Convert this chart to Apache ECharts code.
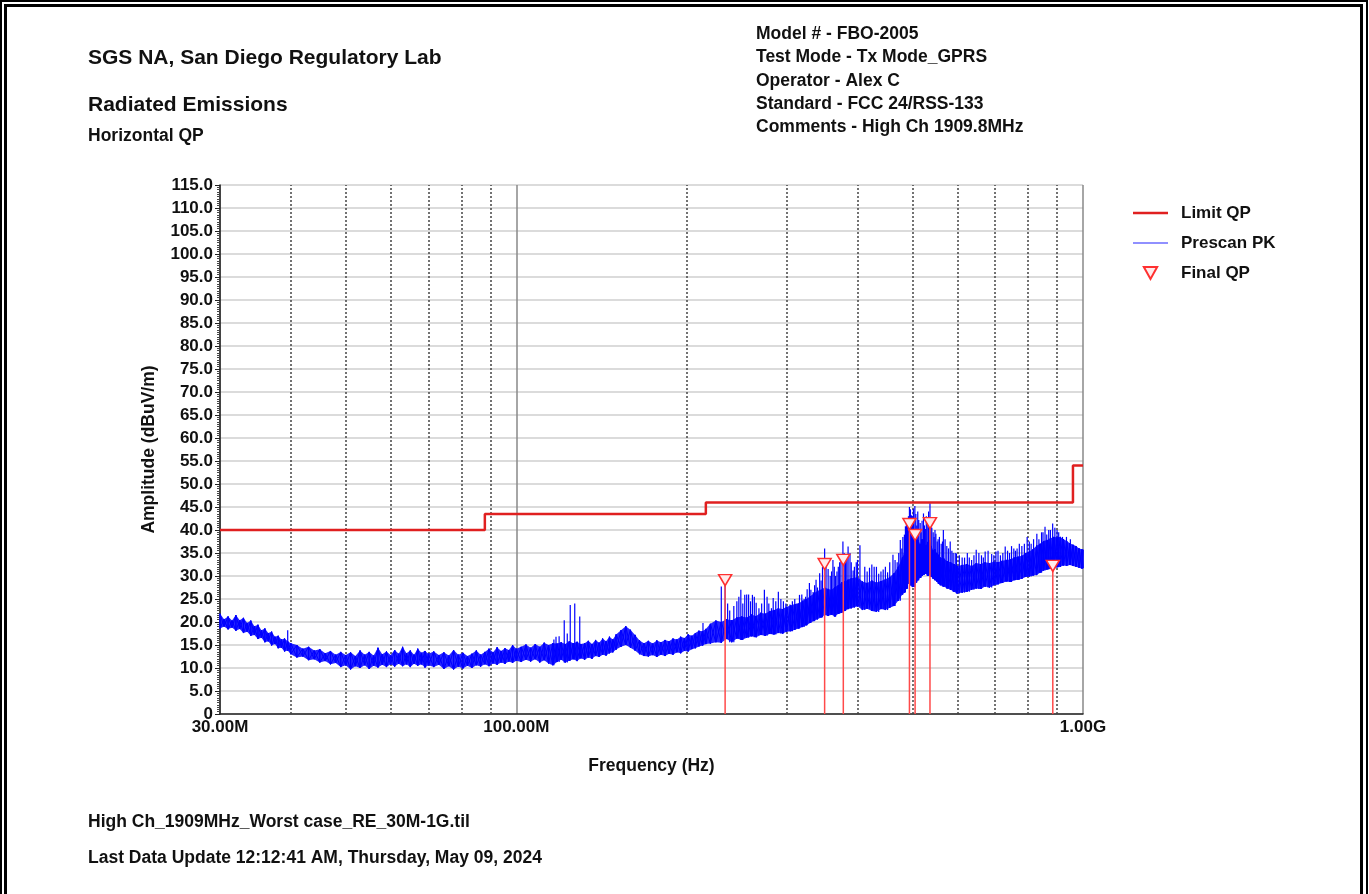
<!DOCTYPE html>
<html>
<head>
<meta charset="utf-8">
<title>Radiated Emissions - Horizontal QP</title>
<script src="https://cdn.jsdelivr.net/npm/echarts@6/dist/echarts.min.js"></script>
<style>
  html, body { margin: 0; padding: 0; background: #fff; }
  #chart { width: 1369px; height: 894px; }
</style>
</head>
<body>
<div id="chart"></div>
<script>
// frequencies in MHz, levels in dBuV/m
// broadband noise floor of the peak prescan: top and bottom of the band
const prescanFreq = [
  30, 30.5, 31, 31.5, 32, 32.5, 33, 33.5, 34, 34.5, 35, 35.5, 36, 36.5, 37, 37.5, 38, 38.5, 39, 39.5, 40,
  41, 42, 43, 44, 45, 46, 47, 48, 49, 50, 51, 52, 53, 54, 55, 56, 57, 58, 59, 60, 61, 62, 63, 64, 65, 66, 67, 68, 69, 70,
  71.5, 73, 74.5, 76, 77.5, 79, 80.5, 82, 83.5, 85, 86.5, 88, 89.5, 91, 92.5, 94, 95.5, 97, 98.5, 100,
  102, 104, 106, 108, 110, 112, 114, 116, 118, 120, 122, 124, 126, 128, 130, 132, 134, 136, 138, 140, 142, 144, 146, 148, 150,
  153, 156, 159, 162, 165, 168, 171, 174, 177, 180, 183, 186, 189, 192, 195, 198, 201, 204, 207, 210, 213, 216,
  220, 225, 230, 235, 240, 245, 250, 255, 260, 265, 270, 275, 280, 285, 290, 295, 300, 305, 310, 315,
  320, 325, 330, 335, 340, 345, 350, 355, 360, 365, 370, 375, 380, 385, 390, 395, 400,
  408, 416, 424, 432, 440, 448, 456, 464, 472, 480, 484, 488, 492, 496, 500, 504, 508, 512, 516, 520,
  524, 528, 532, 536, 540, 544, 548, 552, 556, 560, 568, 576, 584, 592, 600,
  612, 624, 636, 648, 660, 672, 684, 696, 708, 720, 732, 744, 756, 768, 780, 792, 804, 816, 828, 840,
  852, 864, 876, 888, 900, 912, 924, 936, 948, 960, 972, 984, 996, 1000
];
const prescanHi = [
  21.8, 20.6, 21.2, 20.3, 21.5, 20.4, 20.9, 19.8, 20.3, 19.1, 19.4, 18.2, 18.6, 17.6, 17.9, 16.8, 17.0, 16.2, 16.4, 15.8, 15.4,
  15.0, 14.2, 14.6, 13.8, 14.1, 13.2, 13.7, 12.9, 13.5, 12.8, 13.4, 12.6, 13.8, 12.9, 13.5, 12.7, 14.4, 13.0, 13.6, 12.8, 13.9, 13.1, 14.6, 13.2, 13.8, 12.9, 14.2, 13.3, 13.7, 13.1,
  13.6, 12.8, 13.4, 12.7, 13.9, 12.9, 13.3, 12.6, 13.1, 13.8, 12.9, 13.5, 14.2, 13.4, 14.5, 13.7, 14.3, 13.9, 15.0, 14.2,
  14.6, 15.1, 14.4, 15.2, 14.6, 15.5, 15.0, 15.4, 15.3, 15.6, 15.2, 15.8, 15.4, 15.7, 15.2, 15.4, 15.9, 15.2, 16.1, 15.5, 16.4, 15.8, 16.8, 16.2, 17.3,
  18.2, 19.1, 18.3, 17.2, 16.0, 15.4, 15.9, 15.3, 16.0, 15.6, 16.1, 15.8, 16.4, 16.2, 16.8, 16.5, 17.3, 17.0, 17.6, 18.1, 18.0, 18.5,
  19.6, 20.3, 20.0, 20.6, 20.4, 21.0, 21.2, 21.0, 21.6, 21.3, 22.0, 21.8, 22.4, 22.6, 23.0, 22.8, 23.3, 23.6, 23.9, 24.0,
  24.6, 25.0, 25.6, 26.2, 26.8, 27.0, 27.5, 27.2, 27.0, 27.6, 28.0, 28.6, 28.8, 29.2, 29.5, 29.6, 29.8,
  28.8, 28.5, 29.0, 28.6, 28.9, 29.3, 29.8, 30.6, 32.0, 34.0, 35.0, 36.2, 37.5, 37.0, 38.0, 37.6, 38.2, 37.8, 36.9, 38.0,
  37.2, 36.6, 37.4, 37.8, 36.5, 35.6, 35.8, 35.0, 34.6, 34.0, 33.8, 33.2, 33.0, 32.6, 32.2,
  32.4, 32.6, 32.2, 32.8, 32.6, 33.0, 32.8, 33.1, 33.0, 33.3, 33.5, 33.6, 34.0, 34.2, 34.4, 35.0, 35.3, 35.8, 36.6, 37.0,
  37.6, 37.8, 38.2, 38.5, 38.4, 38.5, 38.0, 37.6, 37.1, 36.8, 36.5, 36.0, 35.8, 35.7
];
const prescanLo = [
  18.6, 19.0, 18.4, 18.8, 18.1, 18.5, 17.6, 17.9, 17.0, 17.2, 16.3, 16.6, 15.6, 15.8, 14.9, 15.2, 14.3, 14.4, 13.6, 13.8, 13.0,
  12.3, 12.5, 11.7, 11.9, 11.2, 11.5, 10.8, 11.1, 10.2, 10.6, 9.7, 10.4, 10.0, 10.6, 9.8, 10.5, 10.1, 10.7, 10.2, 10.8, 10.3, 10.9, 10.4, 10.8, 10.2, 10.9, 10.5, 10.8, 10.1, 10.6,
  10.2, 10.7, 9.8, 10.4, 9.7, 10.3, 9.9, 10.5, 10.0, 10.6, 10.3, 10.8, 10.4, 11.0, 10.7, 11.2, 10.9, 11.4, 11.1, 11.6,
  11.3, 11.8, 11.4, 11.9, 11.2, 11.7, 11.0, 10.6, 11.3, 11.8, 11.2, 11.6, 11.9, 11.5, 12.1, 11.8, 12.3, 12.0, 12.6, 12.4, 12.9, 12.7, 13.2, 13.4, 14.0,
  14.6, 15.0, 14.4, 13.8, 13.0, 12.6, 12.5, 12.8, 12.4, 12.9, 12.6, 13.1, 12.9, 13.4, 13.2, 13.7, 13.6, 14.1, 14.3, 14.7, 14.9, 15.2,
  15.3, 15.6, 15.5, 16.3, 15.6, 16.4, 16.1, 16.6, 16.9, 16.7, 17.2, 17.0, 17.4, 17.3, 17.6, 17.5, 17.9, 18.0, 18.3, 18.6,
  18.9, 19.3, 19.8, 20.2, 20.6, 21.0, 21.5, 21.3, 21.6, 21.2, 21.8, 22.0, 22.4, 22.8, 23.0, 23.2, 23.4,
  22.6, 22.9, 22.4, 22.2, 22.8, 22.6, 23.1, 23.5, 24.6, 26.0, 26.4, 27.2, 28.4, 28.0, 27.6, 27.7, 28.6, 29.1, 29.6, 30.0,
  30.3, 30.5, 30.0, 30.2, 29.8, 29.4, 29.1, 28.8, 28.3, 28.0, 27.7, 27.3, 27.0, 26.6, 26.2,
  26.4, 26.6, 27.0, 27.3, 27.2, 27.7, 27.5, 28.0, 28.2, 28.5, 28.8, 28.7, 29.1, 29.2, 29.4, 29.8, 29.9, 30.1, 30.2, 30.7,
  31.2, 31.4, 31.6, 31.7, 31.9, 32.0, 32.3, 32.2, 32.4, 32.2, 32.0, 31.8, 31.6, 31.7
];

// narrowband peaks rising out of the noise floor
const spikeFreq = [
  39.5, 116.5, 117.5, 119, 121.5, 123, 124.5, 126.8, 129.4, 213.5,
  230, 233.6, 236, 245, 249, 253, 257, 261, 265, 268, 274, 279, 284, 290, 296, 304, 310, 316,
  322, 326, 329, 334, 338, 343, 347, 350, 355, 358, 362, 366, 370, 374, 377, 381, 385, 388, 393, 398,
  404, 412, 420, 428, 436, 444, 452, 462, 470, 476, 481, 486, 490, 494, 498, 502, 505, 509, 513,
  518, 523, 527, 531, 537, 541, 546, 550, 555, 562, 567, 575, 583, 590, 598,
  618, 636, 648, 662, 672, 690, 702, 715, 729, 742, 755, 765, 780, 797, 810, 829, 845, 857, 870, 884, 900,
  238, 242, 247, 251, 255, 259, 263, 271, 277, 282, 287, 293, 299, 307, 313, 319, 324, 331, 336, 340,
  345, 352, 360, 364, 368, 372, 379, 383, 390, 395, 400, 416, 424, 432, 440, 448, 456, 466, 473, 479,
  484, 488, 492, 496, 500, 507, 511, 516, 520, 525, 529, 534, 539, 544, 548, 553, 558, 565, 571, 579,
  587, 595, 605, 612, 625, 630, 642, 655, 667, 680, 696, 708, 722, 736, 748, 760, 772, 788, 804, 818,
  836, 850, 863, 876, 892, 906, 920, 935, 950
];
const spikeLevel = [
  18.2, 16.2, 16.8, 16.9, 20.4, 17.5, 23.7, 24.0, 21.2, 19.8,
  27.7, 29.4, 24.0, 24.5, 27.0, 25.9, 26.0, 25.9, 24.2, 23.0, 27.0, 24.0, 25.2, 26.6, 24.5, 23.8, 25.0, 25.9,
  25.0, 27.1, 28.5, 26.5, 29.2, 30.6, 32.0, 36.0, 31.5, 30.0, 33.5, 30.0, 32.0, 34.0, 37.5, 33.6, 36.4, 35.0, 31.2, 33.0,
  36.7, 32.0, 31.8, 32.0, 30.5, 31.4, 30.8, 34.6, 33.0, 37.8, 38.5, 40.8, 42.0, 45.0, 43.2, 44.6, 45.2, 41.0, 42.2,
  39.5, 43.6, 40.2, 42.0, 45.8, 40.5, 38.5, 39.2, 38.0, 37.0, 40.0, 36.5, 37.5, 35.0, 34.9,
  34.0, 33.5, 35.7, 34.5, 35.3, 34.8, 35.3, 34.5, 36.4, 35.0, 36.0, 36.0, 36.5, 38.5, 37.0, 39.2, 39.5, 40.7, 40.0, 41.4, 40.0,
  22.5, 23.5, 25.5, 24.0, 26.0, 24.5, 25.5, 24.0, 25.5, 23.0, 24.5, 25.0, 24.0, 24.5, 24.0, 26.0, 25.5, 27.0, 28.0, 27.5,
  29.0, 33.0, 31.0, 32.0, 31.0, 33.0, 35.0, 34.0, 33.0, 32.0, 33.5, 31.0, 32.5, 32.0, 31.0, 32.0, 33.0, 33.5, 35.0, 36.0,
  39.0, 41.5, 43.0, 44.5, 43.0, 43.5, 44.0, 41.5, 42.0, 41.0, 43.0, 44.0, 42.5, 39.5, 40.0, 37.5, 38.5, 37.5, 38.0, 36.0,
  35.5, 35.0, 34.5, 34.0, 35.0, 34.0, 34.5, 35.0, 34.0, 35.5, 34.5, 35.5, 35.0, 35.5, 36.5, 35.5, 37.0, 37.0, 37.5, 38.0,
  38.0, 39.5, 39.0, 40.0, 40.5, 39.5, 38.5, 38.5, 38.0
];

const limitFreq = [30, 88, 88, 216, 216, 960, 960, 1000];
const limitLevel = [40, 40, 43.5, 43.5, 46, 46, 54, 54];

const finalFreq = [233.6, 350.0, 377.6, 494.0, 505.5, 537.0, 884.5];
const finalLevel = [29.1, 32.6, 33.5, 41.3, 38.9, 41.5, 32.2];

// dotted frequency grid lines
const gridFreqs = [40, 50, 60, 70, 80, 90, 200, 300, 400, 500, 600, 700, 800, 900];

const FONT = '"Liberation Sans", Arial, Helvetica, sans-serif';
const chart = echarts.init(document.getElementById('chart'));

// peak trace drawn as up/down strokes between the high and low readings
const traceUp = [];
const traceDown = [];
prescanFreq.forEach((f, i) => {
  traceUp.push([f, prescanHi[i]], [f, prescanLo[i]]);
  traceDown.push([f, prescanLo[i]], [f, prescanHi[i]]);
});

// base of each spike = bottom of the band at the nearest sample
function nearestIndex(f) {
  let best = 0;
  prescanFreq.forEach((p, i) => {
    if (Math.abs(p - f) < Math.abs(prescanFreq[best] - f)) best = i;
  });
  return best;
}
const spikeData = spikeFreq.map((f, i) => [f, spikeLevel[i], prescanLo[nearestIndex(f)]]);

function headerText(x, y, text, size) {
  return {
    type: 'text', x: x, y: y, silent: true,
    style: { text: text, font: 'bold ' + size + 'px ' + FONT, fill: '#111', align: 'left', verticalAlign: 'middle' }
  };
}

const option = {
  animation: false,
  backgroundColor: '#fff',
  graphic: [
    { type: 'rect', silent: true, shape: { x: 1, y: 1, width: 1366, height: 910 }, style: { fill: 'none', stroke: '#000', lineWidth: 2 } },
    { type: 'rect', silent: true, shape: { x: 5.5, y: 5.5, width: 1356, height: 910 }, style: { fill: 'none', stroke: '#000', lineWidth: 3 } },
    headerText(88, 58, 'SGS NA, San Diego Regulatory Lab', 21),
    headerText(88, 105, 'Radiated Emissions', 21),
    headerText(88, 136, 'Horizontal QP', 17.5),
    headerText(756, 34, 'Model # - FBO-2005', 17.5),
    headerText(756, 57.5, 'Test Mode - Tx Mode_GPRS', 17.5),
    headerText(756, 81, 'Operator - Alex C', 17.5),
    headerText(756, 104, 'Standard - FCC 24/RSS-133', 17.5),
    headerText(756, 127, 'Comments - High Ch 1909.8MHz', 17.5),
    headerText(88, 822, 'High Ch_1909MHz_Worst case_RE_30M-1G.til', 17.5),
    headerText(88, 858, 'Last Data Update 12:12:41 AM, Thursday, May 09, 2024', 17.5)
  ],
  legend: {
    orient: 'vertical',
    left: 1128,
    top: 199,
    itemWidth: 35,
    itemHeight: 12,
    itemGap: 12,
    textStyle: { fontFamily: FONT, fontWeight: 'bold', fontSize: 17, color: '#111', lineHeight: 18, padding: [0, 0, 0, 8] },
    data: [
      { name: 'Limit QP', icon: 'path://M0,0H35V2.5H0Z' },
      { name: 'Prescan PK', icon: 'path://M0,0H35V1.4H0Z' },
      { name: 'Final QP', icon: 'path://M0,0L10,0L5,9Z' }
    ]
  },
  grid: { left: 220, right: 286, top: 185, bottom: 180 },
  xAxis: {
    type: 'log',
    logBase: 10,
    min: 30,
    max: 1000,
    name: 'Frequency (Hz)',
    nameLocation: 'middle',
    nameGap: 43,
    nameTextStyle: { fontFamily: FONT, fontWeight: 'bold', fontSize: 17.5, color: '#111' },
    axisLine: { lineStyle: { color: '#222', width: 1.5 } },
    axisTick: { show: false },
    axisLabel: {
      fontFamily: FONT, fontWeight: 'bold', fontSize: 17, color: '#111', margin: 5,
      formatter: v => v >= 999 ? (v / 1000).toFixed(2) + 'G' : v.toFixed(2) + 'M'
    },
    splitLine: { show: true, lineStyle: { color: '#888', width: 1.5 } }
  },
  yAxis: {
    type: 'value',
    min: 0,
    max: 115,
    interval: 5,
    name: 'Amplitude (dBuV/m)',
    nameLocation: 'middle',
    nameGap: 62,
    nameTextStyle: { fontFamily: FONT, fontWeight: 'bold', fontSize: 17.5, color: '#111' },
    axisLine: { show: true, lineStyle: { color: '#222', width: 1.5 } },
    axisTick: { show: true, length: 5, lineStyle: { color: '#222' } },
    minorTick: { show: true, splitNumber: 10, length: 3, lineStyle: { color: '#444' } },
    axisLabel: {
      fontFamily: FONT, fontWeight: 'bold', fontSize: 17, color: '#111', margin: 7,
      formatter: v => v === 0 ? '0' : v.toFixed(1)
    },
    splitLine: { show: true, lineStyle: { color: '#cfcfcf', width: 1.5 } }
  },
  series: [
    {
      name: 'freq grid',
      type: 'line',
      data: [],
      z: 1,
      silent: true,
      markLine: {
        z: 1,
        silent: true,
        symbol: 'none',
        label: { show: false },
        lineStyle: { color: '#444', type: [2, 2], width: 1.5 },
        data: gridFreqs.map(f => ({ xAxis: f }))
      }
    },
    {
      // filled noise band between the low and high readings
      name: 'Prescan band',
      type: 'custom',
      z: 2,
      silent: true,
      data: [prescanFreq[0]],
      renderItem: (params, api) => {
        const pts = [];
        prescanFreq.forEach((f, i) => pts.push(api.coord([f, prescanHi[i]])));
        for (let i = prescanFreq.length - 1; i >= 0; i--) pts.push(api.coord([prescanFreq[i], prescanLo[i]]));
        return {
          type: 'polygon',
          shape: { points: pts },
          style: { fill: '#0000ff', opacity: 0.85 }
        };
      }
    },
    {
      name: 'Prescan PK',
      type: 'line',
      z: 3,
      symbol: 'none',
      silent: true,
      color: '#6b6bff',
      lineStyle: { color: '#0000ff', width: 1 },
      data: traceUp
    },
    {
      name: 'Prescan PK',
      type: 'line',
      z: 3,
      symbol: 'none',
      silent: true,
      lineStyle: { color: '#0000ff', width: 1 },
      data: traceDown
    },
    {
      name: 'Prescan spikes',
      type: 'custom',
      z: 3,
      silent: true,
      data: spikeData,
      renderItem: (params, api) => {
        const top = api.coord([api.value(0), api.value(1)]);
        const base = api.coord([api.value(0), api.value(2)]);
        return {
          type: 'line',
          shape: { x1: top[0], y1: top[1], x2: base[0], y2: base[1] },
          style: { stroke: '#0000ff', lineWidth: 1.2 }
        };
      }
    },
    {
      name: 'Limit QP',
      type: 'line',
      z: 4,
      symbol: 'none',
      silent: true,
      color: '#e02020',
      lineStyle: { color: '#e02020', width: 2.5 },
      data: limitFreq.map((f, i) => [f, limitLevel[i]])
    },
    {
      name: 'Final QP stems',
      type: 'custom',
      z: 5,
      silent: true,
      data: finalFreq.map((f, i) => [f, finalLevel[i]]),
      renderItem: (params, api) => {
        const top = api.coord([api.value(0), api.value(1)]);
        const bottom = api.coord([api.value(0), 0]);
        return {
          type: 'line',
          shape: { x1: top[0], y1: top[1], x2: bottom[0], y2: bottom[1] },
          style: { stroke: '#ff4a4a', lineWidth: 1.5 }
        };
      }
    },
    {
      name: 'Final QP',
      type: 'scatter',
      z: 6,
      silent: true,
      symbol: 'triangle',
      symbolRotate: 180,
      symbolSize: [13, 11],
      itemStyle: { color: '#ffecec', borderColor: '#ff3030', borderWidth: 1.5, opacity: 1 },
      data: finalFreq.map((f, i) => [f, finalLevel[i]])
    }
  ]
};

chart.setOption(option);
</script>
</body>
</html>
